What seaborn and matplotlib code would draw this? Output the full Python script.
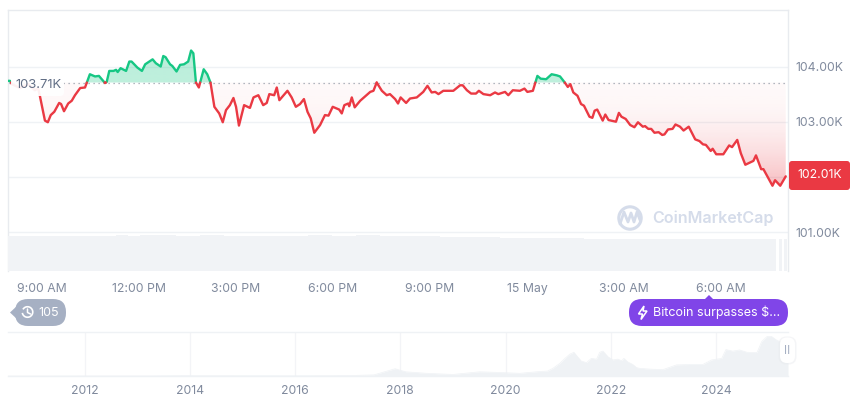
import numpy as np
import pandas as pd
import matplotlib
matplotlib.use('Agg')
import matplotlib.pyplot as plt
import seaborn as sns
from matplotlib.patches import FancyBboxPatch, Polygon, Circle, Arc

# Price, hours counted from midnight of 14 May
hours = [7.95, 8.01, 8.07, 8.32, 8.57, 8.78, 8.88, 8.94, 9.09, 9.18, 9.27, 9.38, 9.53, 9.59, 9.68, 9.81, 9.92,
         10.02, 10.18, 10.33, 10.48, 10.64, 10.76, 10.95, 11.00, 11.08, 11.21, 11.29, 11.34, 11.43, 11.60, 11.70,
         11.77, 11.95, 12.09, 12.19, 12.42, 12.52, 12.67, 12.75, 12.82, 12.96, 13.03, 13.16, 13.27, 13.39, 13.52,
         13.61, 13.68, 13.76, 13.85, 14.00, 14.11, 14.21, 14.33, 14.48, 14.59, 14.69, 14.81, 14.92, 15.00, 15.09,
         15.25, 15.43, 15.54, 15.69, 15.84, 15.95, 16.03, 16.18, 16.26, 16.34, 16.59, 16.72, 16.85, 16.98, 17.10,
         17.21, 17.31, 17.42, 17.60, 17.75, 17.86, 17.99, 18.19, 18.27, 18.35, 18.47, 18.50, 18.58, 18.67, 18.84,
         19.15, 19.25, 19.35, 19.51, 19.66, 19.76, 19.92, 20.01, 20.09, 20.26, 20.38, 20.59, 20.79, 20.92, 21.05,
         21.16, 21.26, 21.41, 21.72, 21.93, 22.01, 22.14, 22.27, 22.42, 22.51, 22.65, 22.86, 23.01, 23.11, 23.32,
         23.42, 23.56, 23.78, 23.92, 24.01, 24.18, 24.32, 24.42, 24.59, 24.76, 24.92, 25.02, 25.18, 25.26, 25.34,
         25.43, 25.56, 25.67, 25.76, 25.93, 26.02, 26.09, 26.17, 26.34, 26.42, 26.52, 26.75, 26.84, 26.92, 27.05,
         27.19, 27.32, 27.43, 27.58, 27.65, 27.75, 27.84, 27.94, 28.07, 28.18, 28.25, 28.36, 28.50, 28.59, 28.73,
         28.84, 29.00, 29.20, 29.33, 29.44, 29.53, 29.68, 29.74, 29.85, 30.07, 30.25, 30.34, 30.50, 30.61, 30.75,
         31.00, 31.08, 31.24, 31.31, 31.59, 31.67, 31.83, 32.00]
prices = [103.74, 103.74, 103.68, 103.61, 103.68, 103.57, 103.61, 103.45, 103.02, 102.99, 103.12, 103.18, 103.34,
          103.32, 103.19, 103.33, 103.38, 103.48, 103.61, 103.62, 103.86, 103.82, 103.83, 103.70, 103.72, 103.92,
          103.92, 103.94, 103.90, 103.97, 103.92, 104.09, 104.09, 103.98, 103.92, 104.04, 104.13, 104.06, 104.00,
          104.19, 104.17, 104.04, 104.01, 103.91, 104.03, 104.04, 104.09, 104.29, 104.24, 103.71, 103.62, 103.95,
          103.86, 103.71, 103.27, 103.15, 102.99, 103.21, 103.30, 103.43, 103.27, 102.93, 103.30, 103.25, 103.44,
          103.48, 103.30, 103.34, 103.50, 103.48, 103.62, 103.39, 103.56, 103.44, 103.27, 103.32, 103.41, 103.18,
          103.06, 102.80, 102.94, 103.12, 103.11, 103.27, 103.22, 103.15, 103.30, 103.33, 103.28, 103.44, 103.26,
          103.38, 103.54, 103.56, 103.71, 103.56, 103.48, 103.50, 103.41, 103.33, 103.44, 103.34, 103.42, 103.44,
          103.54, 103.65, 103.53, 103.54, 103.50, 103.56, 103.56, 103.66, 103.66, 103.57, 103.51, 103.51, 103.56,
          103.50, 103.48, 103.53, 103.50, 103.54, 103.48, 103.57, 103.56, 103.60, 103.54, 103.56, 103.83, 103.78,
          103.77, 103.86, 103.84, 103.82, 103.70, 103.63, 103.68, 103.53, 103.47, 103.32, 103.29, 103.09, 103.07,
          103.20, 103.22, 103.02, 103.13, 103.03, 103.00, 103.16, 103.09, 103.05, 102.94, 102.90, 102.99, 102.91,
          102.92, 102.87, 102.87, 102.80, 102.81, 102.76, 102.77, 102.86, 102.87, 102.95, 102.91, 102.84, 102.91,
          102.68, 102.65, 102.59, 102.58, 102.47, 102.51, 102.41, 102.41, 102.57, 102.54, 102.67, 102.43, 102.22,
          102.29, 102.39, 102.14, 102.14, 101.84, 101.94, 101.84, 102.01]
baseline = 103.71

# 102.00K sits under the last price tag in the chart, so it has no label
price_ticks = [101, 102, 103, 104]
price_labels = ['101.00K', '', '103.00K', '104.00K']
time_ticks = [9, 12, 15, 18, 21, 24, 27, 30]
time_labels = ['9:00 AM', '12:00 PM', '3:00 PM', '6:00 PM', '9:00 PM', '15 May', '3:00 AM', '6:00 AM']

# Volume, relative height of each block
volume = [97, 97, 97, 96, 98, 98, 97, 97, 98, 99, 98, 99, 100, 99, 98, 98, 99, 99, 98, 97, 96, 98, 98, 98, 98, 99,
          99, 98, 98, 99, 99, 98, 98, 97, 97, 96, 95, 95, 95, 94, 94, 93, 93, 92, 92, 91, 91, 91, 90, 90, 90, 90,
          90, 90, 90, 90, 90, 90, 90, 90, 90, 90, 89, 90]
volume_end_hours = [31.84, 31.99]
volume_end = [89, 89]

# Long range overview, thousands of dollars
years = [2010.54, 2012.0, 2013.3, 2013.9, 2014.2, 2016.0, 2017.0, 2017.5, 2017.9, 2018.1, 2018.5, 2019.0, 2019.51,
         2019.98, 2020.27, 2020.59, 2020.8, 2020.9, 2021.03, 2021.13, 2021.22, 2021.3, 2021.37, 2021.44, 2021.54,
         2021.63, 2021.73, 2021.79, 2021.85, 2021.95, 2022.04, 2022.13, 2022.21, 2022.25, 2022.32, 2022.42, 2022.49,
         2022.55, 2022.74, 2022.99, 2023.25, 2023.5, 2023.75, 2023.92, 2024.11, 2024.19, 2024.32, 2024.45, 2024.59,
         2024.78, 2024.87, 2024.97, 2025.06, 2025.15, 2025.25, 2025.37]
overview = [0, 0.1, 0.2, 1, 0.8, 0.5, 1, 3, 19, 11, 7, 4, 11, 8.7, 7, 11, 13, 20, 33, 46, 57, 62, 50, 39, 35, 46, 44,
            62, 65, 50, 42, 44, 40, 46, 37, 30, 22, 20, 18, 16.5, 29, 30, 30, 42, 46, 69, 65, 68, 62, 61, 90, 103,
            103, 94, 88, 85]
overview_ticks = [2012, 2014, 2016, 2018, 2020, 2022, 2024]

GREEN = '#16c784'
RED = '#ea3943'
GRID = '#eff2f5'
TEXT = '#808a9d'
PURPLE = '#8045e8'

sns.set_theme(style='white')
plt.rcParams['font.family'] = ['Inter', 'DejaVu Sans']

W, H = 860, 401
fig = plt.figure(figsize=(W / 100, H / 100), dpi=100)


def px_axes(x0, y0, x1, y1):
    return fig.add_axes([x0 / W, 1 - y1 / H, (x1 - x0) / W, (y1 - y0) / H])


ax = px_axes(8, 10, 788, 271)
ax_vol = px_axes(8, 235, 788, 271)
ax_over = px_axes(8, 332, 788, 376)

# split the line where it crosses the open price
rows = []
seg = 0
side = 'up' if prices[0] >= baseline else 'down'
hours_f, prices_f = [hours[0]], [prices[0]]
rows.append((hours[0], prices[0], side, seg))
for i in range(1, len(hours)):
    new_side = 'up' if prices[i] >= baseline else 'down'
    if new_side != side:
        t = (baseline - prices[i - 1]) / (prices[i] - prices[i - 1])
        hx = hours[i - 1] + t * (hours[i] - hours[i - 1])
        rows.append((hx, baseline, side, seg))
        seg += 1
        rows.append((hx, baseline, new_side, seg))
        hours_f.append(hx)
        prices_f.append(baseline)
        side = new_side
    rows.append((hours[i], prices[i], side, seg))
    hours_f.append(hours[i])
    prices_f.append(prices[i])
df = pd.DataFrame(rows, columns=['hour', 'price', 'side', 'seg'])
hours_f = np.array(hours_f)
prices_f = np.array(prices_f)

xlim = (7.948, 32.07)
ylim = (100.295, 105.024)


# gradient fills, clipped to the area between price and open
def gradient_fill(ax, where, rgb, a_base, a_far, y_far):
    poly = ax.fill_between(hours_f, prices_f, baseline, where=where, color='none', lw=0)
    f = np.linspace(0, 1, 256)
    img = np.zeros((256, 1, 4))
    img[:, :, :3] = matplotlib.colors.to_rgb(rgb)
    img[:, 0, 3] = a_base + (a_far - a_base) * f ** 2
    if y_far > baseline:
        img = img[::-1]
    im = ax.imshow(img, extent=[xlim[0], xlim[1], min(baseline, y_far), max(baseline, y_far)],
                   origin='upper', aspect='auto', zorder=1, interpolation='bilinear')
    comp = matplotlib.path.Path.make_compound_path(*poly.get_paths())
    im.set_clip_path(comp, transform=ax.transData)


gradient_fill(ax, prices_f <= baseline, RED, 0.03, 0.33, 101.84)
gradient_fill(ax, prices_f >= baseline, GREEN, 0.28, 0.32, 104.29)

ax.hlines(baseline, xlim[0], 32.0, color='#9aa1ad', linestyle=(0, (1, 3)), lw=0.9, zorder=2)
sns.lineplot(data=df, x='hour', y='price', hue='side', units='seg', estimator=None, sort=False,
             palette={'up': GREEN, 'down': RED}, legend=False, lw=1.7, ax=ax, zorder=3)

ax.set_xlim(xlim)
ax.set_ylim(ylim)
ax.set_xlabel('')
ax.set_ylabel('')
ax.yaxis.tick_right()
ax.set_yticks(price_ticks)
ax.set_yticklabels(price_labels)
ax.set_xticks(time_ticks)
ax.set_xticklabels(time_labels)
ax.tick_params(axis='y', length=0, pad=5, labelsize=8.8, labelcolor=TEXT)
ax.tick_params(axis='x', length=0, pad=8.5, labelsize=8.8, labelcolor=TEXT)
ax.grid(axis='y', color=GRID, lw=1)
for s in ['left', 'right', 'top']:
    ax.spines[s].set_color('#e8ebef')
    ax.spines[s].set_linewidth(1)
ax.spines['bottom'].set_visible(False)
ax.patch.set_alpha(0)

# volume blocks
vol_hours = np.linspace(7.948 + 0.186, 31.70 - 0.186, len(volume))
ax_vol.bar(vol_hours, volume, width=vol_hours[1] - vol_hours[0], color='#f1f3f6', lw=0)
ax_vol.bar(volume_end_hours, volume_end, width=0.1, color='#f1f3f6', lw=0)
ax_vol.set_xlim(xlim)
ax_vol.set_ylim(0, 100)
ax_vol.axis('off')
ax_vol.patch.set_alpha(0)

# overview
ax_over.fill_between(years, overview, 0, color=GRID, lw=0, zorder=2)
sns.lineplot(x=years, y=overview, color=GRID, lw=0.5, ax=ax_over, estimator=None, zorder=2)
ax_over.set_xlim(2010.54, 2025.37)
ax_over.set_ylim(0, 115)
ax_over.set_xticks(overview_ticks)
ax_over.set_xticklabels([str(y) for y in overview_ticks])
ax_over.set_yticks([])
ax_over.tick_params(axis='x', length=0, pad=6.5, labelsize=8.8, labelcolor=TEXT)
ax_over.grid(axis='x', color='#f3f4f7', lw=0.9)
ax_over.set_axisbelow(True)
for s in ['left', 'right']:
    ax_over.spines[s].set_visible(False)
for s in ['top', 'bottom']:
    ax_over.spines[s].set_color(GRID)
    ax_over.spines[s].set_linewidth(1)

# overlay in pixels for the labels and pills
ov = fig.add_axes([0, 0, 1, 1], zorder=10)
ov.set_xlim(0, W)
ov.set_ylim(H, 0)
ov.axis('off')
ov.patch.set_alpha(0)


def pill(x0, y0, x1, y1, r, color, **kw):
    p = FancyBboxPatch((x0, y0), x1 - x0, y1 - y0, boxstyle=f'round,pad=0,rounding_size={r}',
                       fc=color, ec=kw.pop('ec', 'none'), lw=kw.pop('lw', 0), **kw)
    ov.add_patch(p)


# open price label
pill(11, 76, 64, 96, 4, 'white', alpha=0.93)
ov.text(15, 85.5, '103.71K', color='#616e85', fontsize=9.4, va='center', ha='left')

# last price tag
pill(789, 161, 850, 190, 3, RED)
ov.text(819.5, 175.5, '102.01K', color='white', fontsize=8.8, va='center', ha='center')

# watermark
ov.add_patch(Circle((630, 218), 11.2, fc='none', ec='#d5dcea', lw=2.2))
ov.plot([620, 624, 628, 631, 634, 637, 640], [224, 212, 222, 213, 222, 212, 220], color='#d5dcea', lw=2)
ov.text(652, 218.5, 'CoinMarketCap', color='#d5dcea', fontsize=11.6, fontweight=600, va='center', ha='left')

# history pill
ov.add_patch(Polygon([[10, 312.5], [18, 305], [18, 320]], fc='#a6b0c3', ec='none'))
pill(15, 299, 66, 326, 13, '#a6b0c3')
ov.add_patch(Arc((27.5, 312), 10.5, 10.5, theta1=-150, theta2=170, ec='white', lw=1.2))
ov.plot([27.5, 27.5, 30.5], [309, 312.5, 314], color='white', lw=1.1)
ov.text(38.5, 312.5, '105', color='white', fontsize=9, va='center', ha='left')

# news pill
ov.add_patch(Polygon([[704, 300], [709, 295], [714, 300]], fc=PURPLE, ec='none'))
pill(629, 299, 788, 326, 13, PURPLE)
ov.add_patch(Polygon([[644, 306], [638.5, 314], [642.5, 314], [641, 319.5], [647, 311], [643, 311]],
                     fc='none', ec='white', lw=1.1))
ov.text(653, 312.5, 'Bitcoin surpasses $...', color='white', fontsize=9, va='center', ha='left')

# slider handle
pill(778.5, 336.5, 796.5, 364.5, 8, '#e8eaee', alpha=0.45)
pill(780, 337.5, 795, 363, 7, 'white')
ov.text(787.5, 350.5, 'II', color='#a6b0c3', fontsize=8.5, va='center', ha='center')

fig.savefig('out.png', dpi=100)
